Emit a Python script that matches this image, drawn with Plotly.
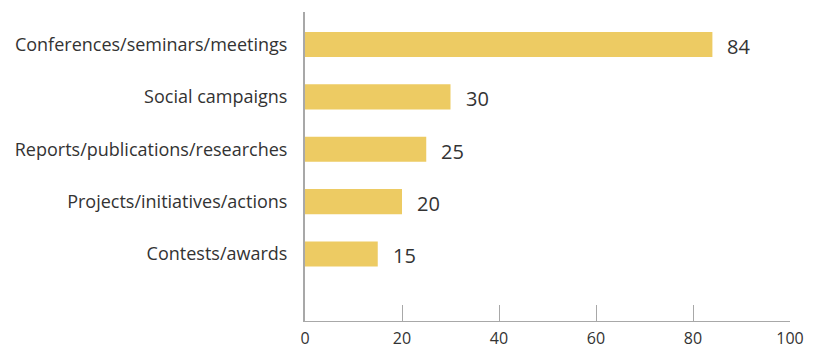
import plotly.graph_objects as go

categories = ["Contests/awards", "Projects/initiatives/actions", "Reports/publications/researches",
              "Social campaigns", "Conferences/seminars/meetings"]
values = [15, 20, 25, 30, 84]
x_ticks = [0, 20, 40, 60, 80, 100]

BAR = "#EDCB63"
TXT = "#333333"
AX = "#A8A8A8"
FONT = "Open Sans"

fig = go.Figure(go.Bar(
    x=values, y=categories, orientation="h",
    marker=dict(color=BAR, line=dict(width=0)),
    width=0.48,
))

for c, v in zip(categories, values):
    fig.add_annotation(x=v, y=c, text=str(v), showarrow=False, xanchor="left",
                       xshift=13, yshift=-2, font=dict(family=FONT, size=20, color=TXT))

fig.update_layout(
    width=833, height=348,
    margin=dict(l=305, r=43, t=12, b=27),
    plot_bgcolor="white", paper_bgcolor="white",
    showlegend=False,
    font=dict(family=FONT, color=TXT),
    bargap=0.5,
)
fig.update_xaxes(
    range=[0, 100], tickvals=x_ticks, ticktext=[str(t) for t in x_ticks],
    showgrid=False, zeroline=False, automargin=False,
    showline=True, linecolor=AX, linewidth=1,
    ticks="inside", ticklen=16, tickcolor=AX, tickwidth=1,
    tickfont=dict(family=FONT, size=16, color=TXT),
    ticklabelstandoff=3,
)
fig.update_yaxes(
    type="category", categoryorder="array", categoryarray=categories,
    range=[-1.28, 4.62], automargin=False,
    showgrid=False, zeroline=False,
    showline=True, linecolor=AX, linewidth=2,
    ticks="", ticklabelstandoff=12,
    tickfont=dict(family=FONT, size=18, color=TXT),
)

fig.write_html("out.html")
